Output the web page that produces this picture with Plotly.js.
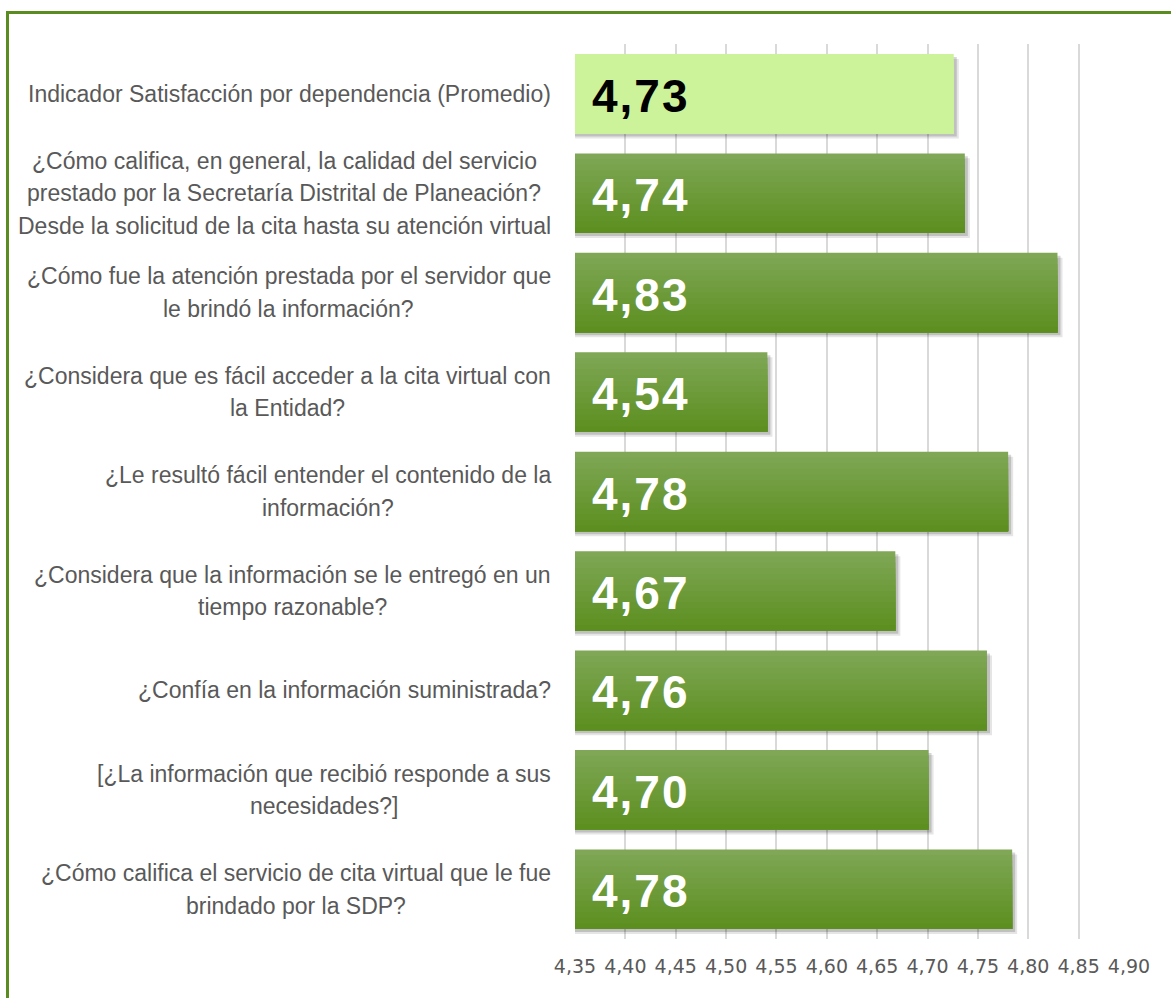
<!DOCTYPE html>
<html>
<head>
<meta charset="utf-8">
<script src="https://cdn.plot.ly/plotly-3.0.1.min.js"></script>
<style>
    body { margin: 0; background: #fff; overflow: hidden; }
    #frame {
        position: absolute; left: 6px; top: 11px;
        border-top: 3px solid #5b8c1f; border-left: 3px solid #5b8c1f;
        width: 1200px; height: 1000px;
    }
    #chart { width: 1162px; height: 984px; }
</style>
</head>
<body>
<div id="frame"><div id="chart"></div></div>
<script>
// --- Data ---
const questions = [
    'Indicador Satisfacción por dependencia (Promedio)',
    '¿Cómo califica, en general, la calidad del servicio<br>prestado por la Secretaría Distrital de Planeación?<br>Desde la solicitud de la cita hasta su atención virtual',
    '¿Cómo fue la atención prestada por el servidor que<br>le brindó la información?',
    '¿Considera que es fácil acceder a la cita virtual con<br>la Entidad?',
    '¿Le resultó fácil entender el contenido de la<br>información?',
    '¿Considera que la información se le entregó en un<br>tiempo razonable?',
    '¿Confía en la información suministrada?',
    '[¿La información que recibió responde a sus<br>necesidades?]',
    '¿Cómo califica el servicio de cita virtual que le fue<br>brindado por la SDP?'
];
const scores = [4.726, 4.737, 4.829, 4.541, 4.780, 4.668, 4.759, 4.701, 4.784];
const xRange = [4.35, 4.90];
const tickValues = [4.35, 4.40, 4.45, 4.50, 4.55, 4.60, 4.65, 4.70, 4.75, 4.80, 4.85, 4.90];

// --- Styles ---
const labelFont = 'Liberation Sans Narrow, Liberation Sans, Arial, sans-serif';
const labelSize = 23;
const lineStep = 32.5;
const greyText = '#595959';
const highlight = '#ccf29a';
const gradTop = [127, 167, 85];
const gradBottom = [92, 143, 32];
const barWidth = 0.8;
const strips = 14;

// measure text widths so wrapped lines can be centred inside a right-aligned block
const ctx = document.createElement('canvas').getContext('2d');
ctx.font = labelSize + 'px "Liberation Sans Narrow", "Liberation Sans", Arial';

const ids = questions.map((_, i) => 'q' + i);
const annotations = [];

questions.forEach((q, i) => {
    const lines = q.split('<br>');
    const maxW = Math.max(...lines.map(l => ctx.measureText(l).width));
    lines.forEach((line, j) => {
        annotations.push({
            xref: 'paper', yref: 'y', x: 0, y: ids[i],
            xanchor: 'center', yanchor: 'middle',
            xshift: -(24 + maxW / 2),
            yshift: ((lines.length - 1) / 2 - j) * lineStep,
            text: line, showarrow: false,
            font: { family: labelFont, size: labelSize, color: greyText }
        });
    });
    // value label inside the bar
    annotations.push({
        xref: 'x', yref: 'y', x: xRange[0], y: ids[i],
        xanchor: 'left', yanchor: 'middle', xshift: 15, yshift: -2,
        text: '<span style="letter-spacing:2px"><b>' + scores[i].toFixed(2).replace('.', ',') + '</b></span>',
        showarrow: false,
        font: { family: 'Liberation Sans, Arial, sans-serif', size: 46, color: i === 0 ? '#000' : '#fff' }
    });
});

// soft shadow behind the bars: own hidden axes, nudged a few px right and down
const traces = [
    { axis: 'x2', shift: 0.05, alpha: 0.10 },
    { axis: 'x3', shift: 0.03, alpha: 0.16 }
].map(s => ({
    type: 'bar', orientation: 'h',
    x: scores, y: ids, xaxis: s.axis,
    width: barWidth, offset: -barWidth / 2 + s.shift,
    marker: { color: `rgba(0,0,0,${s.alpha})`, line: { width: 0 } },
    hoverinfo: 'skip'
}));

// each bar is drawn as strips that all reach the bar bottom, giving the top-to-bottom shading
function mix(k) {
    const t = k / (strips - 1);
    const c = gradTop.map((v, n) => Math.round(v + (gradBottom[n] - v) * t));
    return `rgb(${c[0]},${c[1]},${c[2]})`;
}
for (let k = 0; k < strips; k++) {
    const top = k * barWidth / strips;
    traces.push({
        type: 'bar', orientation: 'h',
        x: scores, y: ids, xaxis: 'x4',
        width: barWidth - top,
        offset: -barWidth / 2 + top,
        marker: { color: scores.map((_, i) => i === 0 ? highlight : mix(k)), opacity: 1, line: { width: 0 } },
        hoverinfo: k === 0 ? 'x' : 'skip'
    });
}

const layout = {
    width: 1162, height: 984,
    margin: { l: 566, r: 42, t: 30, b: 59 },
    paper_bgcolor: '#fff', plot_bgcolor: 'rgba(0,0,0,0)',
    barmode: 'overlay',
    showlegend: false,
    separators: ',.',
    xaxis: {
        range: xRange,
        tickvals: tickValues,
        tickformat: '.2f',
        showgrid: true, gridcolor: '#d9d9d9', gridwidth: 2,
        zeroline: false, showline: false, ticks: '',
        ticklabelstandoff: 14,
        tickfont: { family: 'DejaVu Sans, sans-serif', size: 19, color: greyText }
    },
    xaxis2: { overlaying: 'x', visible: false, range: [xRange[0] - 0.005, xRange[1] - 0.005] },
    xaxis3: { overlaying: 'x', visible: false, range: [xRange[0] - 0.003, xRange[1] - 0.003] },
    xaxis4: { overlaying: 'x', visible: false, range: xRange },
    yaxis: {
        autorange: 'reversed',
        showticklabels: false, showgrid: false, zeroline: false, showline: false, ticks: ''
    },
    annotations: annotations
};

Plotly.newPlot('chart', traces, layout, { displayModeBar: false, staticPlot: true });
</script>
</body>
</html>
